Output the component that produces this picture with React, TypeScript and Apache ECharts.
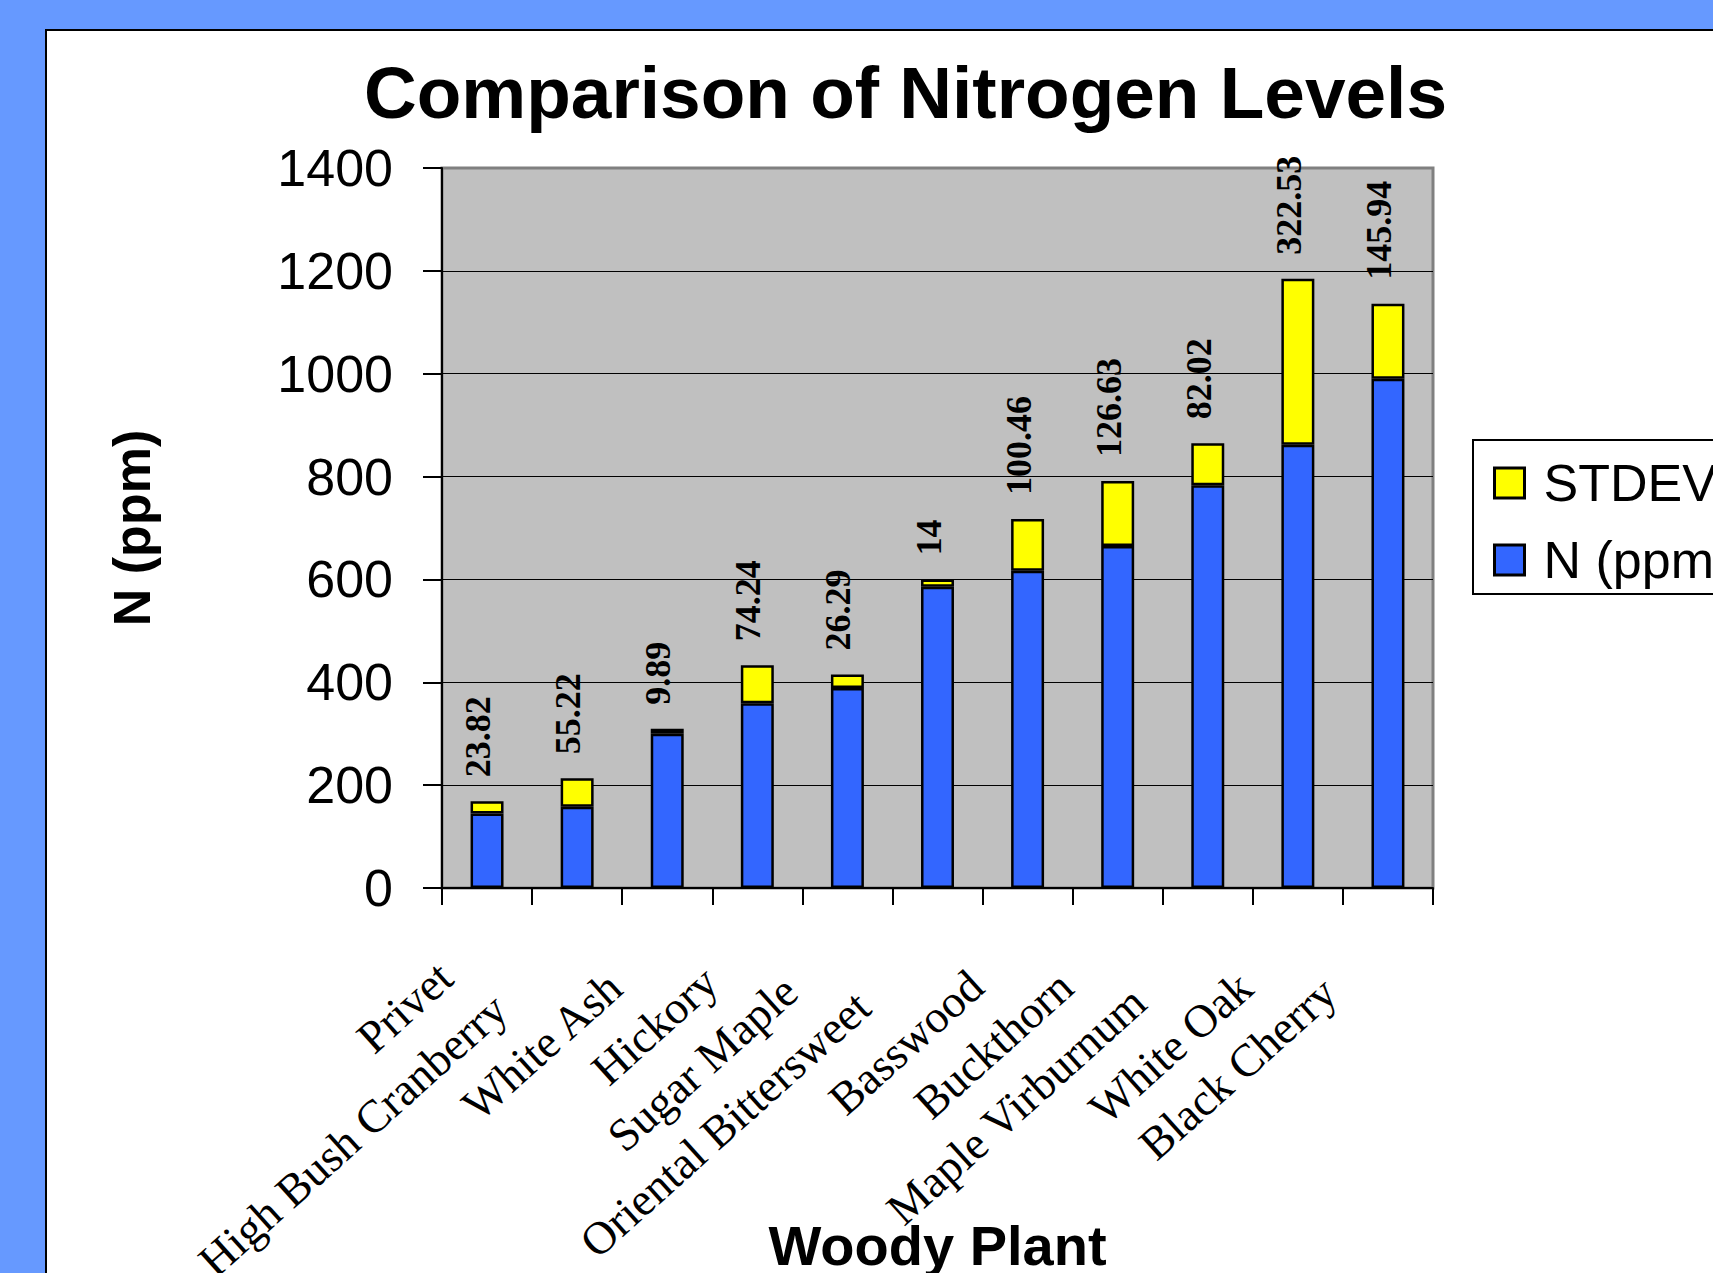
import React, { useEffect, useRef } from 'react';
import * as echarts from 'echarts';

const categories = [
  'Privet',
  'High Bush Cranberry',
  'White Ash',
  'Hickory',
  'Sugar Maple',
  'Oriental Bittersweet',
  'Basswood',
  'Buckthorn',
  'Maple Virburnum',
  'White Oak',
  'Black Cherry',
];
const nValues = [145, 158, 300, 359, 389, 586, 617, 665, 783, 862, 990];
const stdevValues = [23.82, 55.22, 9.89, 74.24, 26.29, 14, 100.46, 126.63, 82.02, 322.53, 145.94];
const yMin = 0;
const yMax = 1400;
const yInterval = 200;

function measure(text: string, font: string): number {
  const c = document.createElement('canvas');
  const ctx = c.getContext('2d');
  if (!ctx) return text.length * 20;
  ctx.font = font;
  return ctx.measureText(text).width;
}

export default function App() {
  const ref = useRef<HTMLDivElement>(null);
  useEffect(() => {
    document.body.style.margin = '0';
    if (!ref.current) return;
    const chart = echarts.init(ref.current, null, { renderer: 'svg' });
    const catFont = '46px "Liberation Serif"';
    const catData = categories.map((c) => ({
      value: c,
      textStyle: { padding: [0, Math.round(37 + 0.17 * measure(c, catFont)), 0, 0] },
    }));
    chart.setOption({
      animation: false,
      backgroundColor: '#6699FF',
      graphic: [
        {
          type: 'rect',
          z: -10,
          silent: true,
          shape: { x: 46, y: 30, width: 1800, height: 1400 },
          style: { fill: '#ffffff', stroke: '#000000', lineWidth: 2 },
        },
      ],
      title: {
        text: 'Comparison of Nitrogen Levels',
        left: 364,
        top: 56,
        padding: 0,
        textStyle: { fontFamily: 'Liberation Sans', fontWeight: 'bold', fontSize: 73, color: '#000' },
      },
      legend: {
        data: ['STDEV', 'N (ppm)'],
        orient: 'vertical',
        left: 1473,
        top: 440,
        padding: [17, 10, 8, 20],
        itemGap: 25,
        itemWidth: 30,
        itemHeight: 30,
        icon: 'rect',
        borderColor: '#000',
        borderWidth: 2,
        borderRadius: 0,
        backgroundColor: '#ffffff',
        itemStyle: { borderColor: '#000', borderWidth: 3 },
        textStyle: { fontFamily: 'Liberation Sans', fontSize: 52, color: '#000', padding: [0, 0, 0, 14] },
      },
      grid: {
        left: 442,
        right: 280,
        top: 168,
        bottom: 385,
        show: true,
        backgroundColor: '#C0C0C0',
        borderColor: '#808080',
        borderWidth: 3,
        containLabel: false,
        outerBoundsMode: 'none',
      },
      xAxis: {
        type: 'category',
        data: catData,
        name: 'Woody Plant',
        nameLocation: 'middle',
        nameGap: 329,
        nameMoveOverlap: false,
        nameTextStyle: { fontFamily: 'Liberation Sans', fontWeight: 'bold', fontSize: 56, color: '#000' },
        axisLine: { show: true, lineStyle: { color: '#000', width: 2 } },
        axisTick: { show: true, length: 17, lineStyle: { color: '#000', width: 2 } },
        axisLabel: {
          interval: 0,
          rotate: 42,
          margin: 45,
          hideOverlap: false,
          fontFamily: 'Liberation Serif',
          fontSize: 46,
          color: '#000',
        },
        splitLine: { show: false },
      },
      yAxis: {
        type: 'value',
        min: yMin,
        max: yMax,
        interval: yInterval,
        name: 'N (ppm)',
        nameLocation: 'middle',
        nameGap: 284,
        nameRotate: 90,
        nameMoveOverlap: false,
        nameTextStyle: { fontFamily: 'Liberation Sans', fontWeight: 'bold', fontSize: 52, color: '#000' },
        axisLine: { show: true, lineStyle: { color: '#000', width: 2 } },
        axisTick: { show: true, length: 19, lineStyle: { color: '#000', width: 2 } },
        axisLabel: {
          margin: 49,
          fontFamily: 'Liberation Sans',
          fontSize: 52,
          color: '#000',
          formatter: (v: number) => String(v),
        },
        splitLine: {
          show: true,
          lineStyle: {
            color: ['#000', '#000', '#000', '#000', '#000', '#000', '#000', '#808080'],
            width: 1,
          },
        },
      },
      series: [
        {
          name: 'N (ppm)',
          type: 'bar',
          stack: 'total',
          data: nValues,
          barWidth: '36.6%',
          itemStyle: { color: '#3366FF', borderColor: '#000', borderWidth: 2.5 },
        },
        {
          name: 'STDEV',
          type: 'bar',
          stack: 'total',
          data: stdevValues,
          barWidth: '36.6%',
          itemStyle: { color: '#FFFF00', borderColor: '#000', borderWidth: 2.5 },
          label: {
            show: true,
            position: 'top',
            distance: 24,
            rotate: 90,
            align: 'left',
            verticalAlign: 'middle',
            offset: [0, -9],
            fontFamily: 'Liberation Serif',
            fontWeight: 'bold',
            fontSize: 36,
            color: '#000',
            formatter: (p: any) => String(p.value),
          },
        },
      ],
    });
    return () => chart.dispose();
  }, []);
  return <div ref={ref} style={{ position: 'fixed', left: 0, top: 0, width: 1713, height: 1273 }} />;
}
